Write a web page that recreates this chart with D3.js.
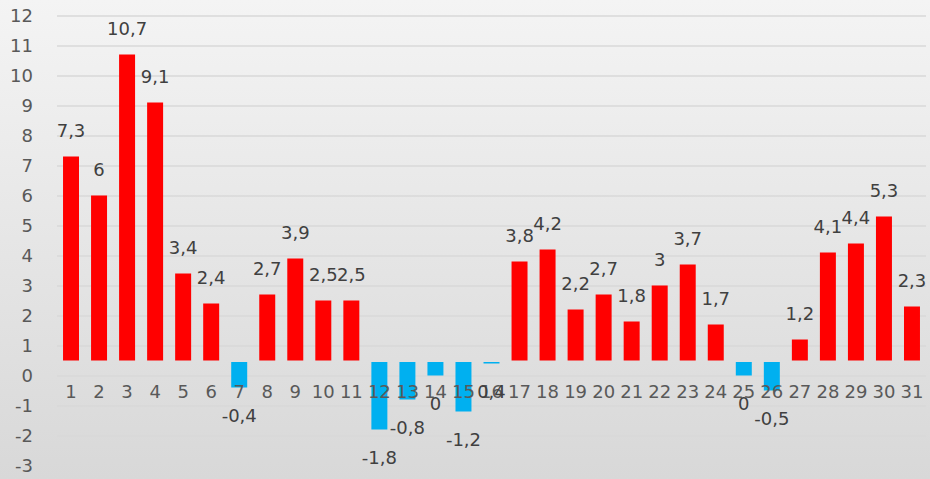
<!DOCTYPE html>
<html>
<head>
<meta charset="utf-8">
<script src="https://cdn.jsdelivr.net/npm/d3@7"></script>
<style>
  html, body { margin: 0; padding: 0; background: #fff; }
  svg { display: block; }
</style>
</head>
<body>
<svg id="chart"></svg>
<script>
const days = d3.range(1, 32).map(String)
const values = [7.3, 6, 10.7, 9.1, 3.4, 2.4, -0.4, 2.7, 3.9, 2.5, 2.5, -1.8, -0.8, 0, -1.2, 0.4,
  3.8, 4.2, 2.2, 2.7, 1.8, 3, 3.7, 1.7, 0, -0.5, 1.2, 4.1, 4.4, 5.3, 2.3]
const yTicks = d3.range(-3, 13)
const axisCross = 0.5

const width = 930
const height = 479
const margin = { top: 15.5, right: 4, bottom: 13.5, left: 57 }

const svg = d3.select('#chart')
  .attr('width', width)
  .attr('height', height)

const defs = svg.append('defs')
const grad = defs.append('linearGradient')
  .attr('id', 'bg')
  .attr('x1', 0).attr('y1', 0).attr('x2', 0).attr('y2', 1)
grad.append('stop').attr('offset', '0%').attr('stop-color', '#f4f4f4')
grad.append('stop').attr('offset', '100%').attr('stop-color', '#d8d8d8')

svg.append('rect')
  .attr('width', width)
  .attr('height', height)
  .attr('fill', 'url(#bg)')

const x = d3.scaleBand()
  .domain(days)
  .range([margin.left, width - margin.right])
  .paddingInner(0.43)
  .paddingOuter(0.215)

const y = d3.scaleLinear()
  .domain([-3, 12])
  .range([height - margin.bottom, margin.top])

const fmt = v => String(v).replace('.', ',')
const font = 'DejaVu Sans, sans-serif'

// Gridlines
svg.append('g')
  .attr('transform', `translate(${margin.left},0)`)
  .call(d3.axisRight(y).tickValues(yTicks).tickSize(width - margin.left - margin.right).tickFormat(''))
  .call(g => g.select('.domain').remove())
  .call(g => g.selectAll('line').attr('stroke', '#d9d9d9').attr('stroke-width', 1.5))

// Y axis labels
svg.append('g')
  .attr('transform', 'translate(33,0)')
  .call(d3.axisLeft(y).tickValues(yTicks).tickSize(0).tickPadding(0).tickFormat(d => String(d)))
  .call(g => g.select('.domain').remove())
  .call(g => g.selectAll('text')
    .attr('font-family', font)
    .attr('font-size', 18)
    .attr('fill', '#595959'))

// Bars (horizontal axis crosses at 0.5)
const y0 = y(axisCross)
svg.selectAll('.bar')
  .data(values)
  .enter().append('rect')
  .attr('class', 'bar')
  .attr('x', (d, i) => x(days[i]))
  .attr('width', x.bandwidth())
  .attr('y', d => d >= axisCross ? y(d) : y0 + 1.5)
  .attr('height', d => d >= axisCross ? y0 - y(d) : y(d) - y0 - 1.5)
  .attr('fill', d => d >= axisCross ? '#ff0000' : '#00b0f0')

// X axis labels
svg.append('g')
  .attr('transform', `translate(0,${y0 + 31})`)
  .call(d3.axisBottom(x).tickSize(0).tickPadding(0))
  .call(g => g.select('.domain').remove())
  .call(g => g.selectAll('text')
    .attr('dy', '0.35em')
    .attr('font-family', font)
    .attr('font-size', 18)
    .attr('fill', '#595959'))

// Value labels
svg.selectAll('.label')
  .data(values)
  .enter().append('text')
  .attr('class', 'label')
  .attr('x', (d, i) => x(days[i]) + x.bandwidth() / 2)
  .attr('y', d => d >= axisCross ? y(d) - 26 : y(d) + 28)
  .attr('dy', '0.35em')
  .attr('text-anchor', 'middle')
  .attr('font-family', font)
  .attr('font-size', 18)
  .attr('fill', '#404040')
  .text(d => fmt(d))
</script>
</body>
</html>
